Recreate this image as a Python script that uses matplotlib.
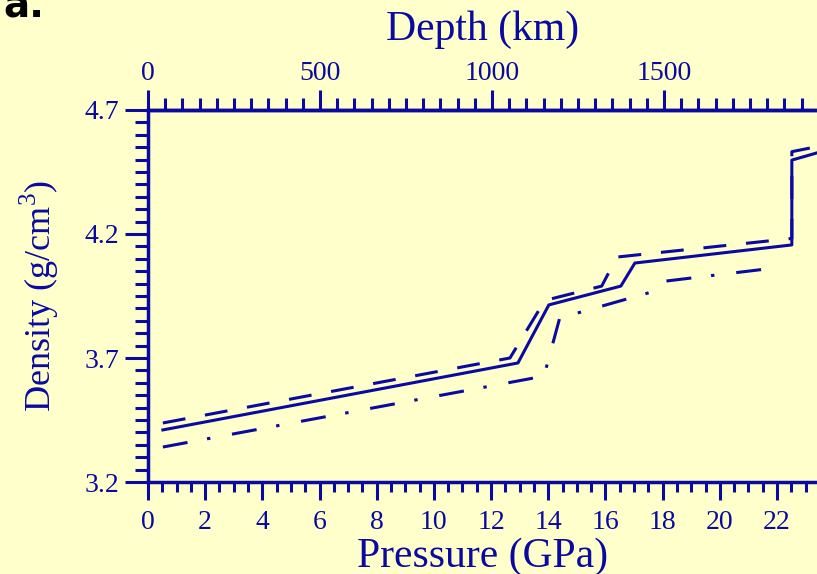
import matplotlib.pyplot as plt
from matplotlib.ticker import MultipleLocator, FixedLocator

plt.rcParams['font.family'] = ['Liberation Serif', 'DejaVu Serif']
plt.rcParams['mathtext.fontset'] = 'custom'
plt.rcParams['mathtext.rm'] = 'Liberation Serif'

BLUE = '#0a0aa0'
BG = '#ffffcc'

# density profiles (pressure GPa, density g/cm3)
solid_p = [0.52, 12.94, 14.02, 16.54, 17.03, 22.52, 22.52, 24.0]
solid_d = [3.41, 3.68, 3.914, 3.99, 4.083, 4.156, 4.498, 4.547]

dashed_p = [0.52, 12.66, 13.88, 15.87, 16.4, 22.52, 22.52, 24.0]
dashed_d = [3.438, 3.70, 3.932, 3.99, 4.107, 4.182, 4.532, 4.566]

dashdot_p = [0.52, 13.85, 14.4, 17.73, 18.1, 21.92]
dashdot_d = [3.341, 3.627, 3.861, 3.97, 4.01, 4.063]

density_ticks = [3.2, 3.7, 4.2, 4.7]
depth_ticks = [0, 500, 1000, 1500]
km_per_gpa = 83.1

fig = plt.figure(figsize=(8.17, 5.74), dpi=100, facecolor=BG)
ax = fig.add_axes([148 / 817, 92 / 574, 669 / 817, 372 / 574])
ax.set_facecolor(BG)

ax.plot(solid_p, solid_d, color=BLUE, lw=2.2)
ax.plot(dashed_p, dashed_d, color=BLUE, lw=2.2, dashes=(7.5, 6.5))
ax.plot(dashdot_p, dashdot_d, color=BLUE, lw=2.2, dashes=(8.2, 6.5, 1.1, 7.2))

ax.set_xlim(0, 23.4)
ax.set_ylim(3.2, 4.7)

for side in ['left', 'bottom', 'top']:
    ax.spines[side].set_color(BLUE)
    ax.spines[side].set_linewidth(2.5)
ax.spines['right'].set_visible(False)

ax.xaxis.set_major_locator(MultipleLocator(2))
ax.xaxis.set_minor_locator(MultipleLocator(0.5))
ax.yaxis.set_major_locator(FixedLocator(density_ticks))
ax.yaxis.set_minor_locator(MultipleLocator(0.05))
ax.yaxis.set_major_formatter(lambda v, pos: f'{v:.1f}')

ax.tick_params(axis='x', which='major', direction='out', length=13, width=2.2,
               color=BLUE, labelcolor=BLUE, labelsize=20, pad=7)
ax.tick_params(axis='x', which='minor', direction='out', length=7, width=2.2, color=BLUE)
ax.tick_params(axis='y', which='major', direction='out', length=16.5, width=2.2,
               color=BLUE, labelcolor=BLUE, labelsize=20, pad=4)
ax.tick_params(axis='y', which='minor', direction='out', length=9.4, width=2.2, color=BLUE)

ax.set_xlabel('Pressure (GPa)', color=BLUE, fontsize=30, labelpad=2)
ax.set_ylabel('Density (g/cm$^3$)', color=BLUE, fontsize=26, labelpad=17)

top = ax.secondary_xaxis('top', functions=(lambda p: p * km_per_gpa,
                                           lambda d: d / km_per_gpa))
top.spines['top'].set_color(BLUE)
top.spines['top'].set_linewidth(2.5)
top.xaxis.set_major_locator(FixedLocator(depth_ticks))
top.xaxis.set_minor_locator(MultipleLocator(50))
top.tick_params(axis='x', which='major', direction='out', length=14.5, width=2.2,
                color=BLUE, labelcolor=BLUE, labelsize=20, pad=3)
top.tick_params(axis='x', which='minor', direction='out', length=8.6, width=2.2, color=BLUE)
top.set_xlabel('Depth (km)', color=BLUE, fontsize=30, labelpad=15)

fig.text(3 / 817, 1 - 18 / 574, 'a.', fontsize=28, fontweight='bold',
         family='DejaVu Sans', color='black', va='baseline', ha='left')

fig.savefig('out.png', dpi=100, facecolor=BG)
